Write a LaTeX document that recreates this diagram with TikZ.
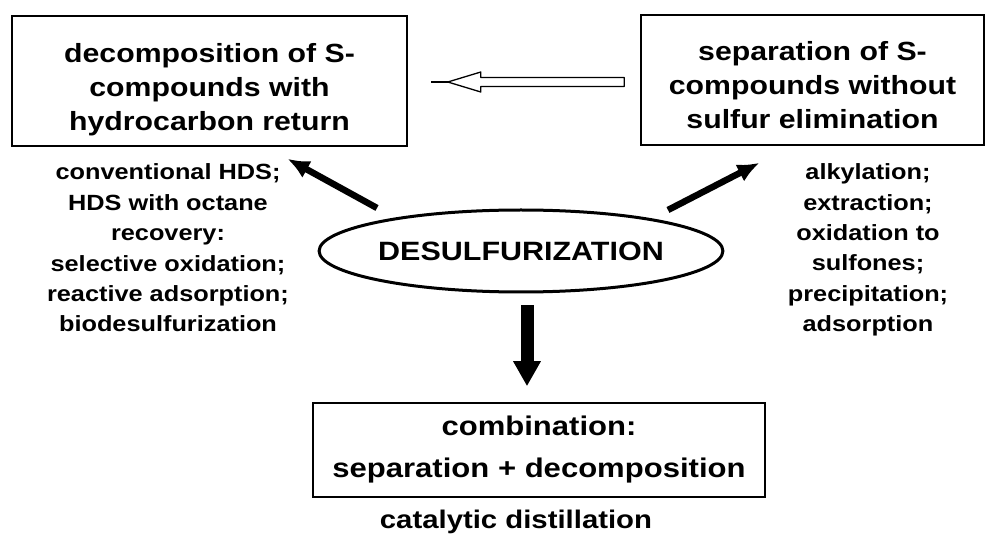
\documentclass[tikz,border=0pt]{standalone}
\usepackage{fontspec}
\setmainfont{Liberation Sans}[FakeStretch=1.15]
\usetikzlibrary{arrows.meta,shapes.geometric,calc}
\newcommand{\lowered}[2]{\raisebox{-#1}[\height][\depth]{\begin{tabular}{@{}c@{}}#2\end{tabular}}}
\tikzset{
  boxnode/.style={draw=black, line width=1.6pt, rectangle, align=center, inner sep=0pt, font=\bfseries\fontsize{26.3}{34}\selectfont},
  listnode/.style={align=center, inner sep=0pt, font=\bfseries\fontsize{22}{30.4}\selectfont},
  ellnode/.style={draw=black, line width=3pt, ellipse, inner sep=0pt, minimum width=383pt, minimum height=82pt, font=\bfseries\fontsize{26.5}{30}\selectfont},
  bigarrow/.style={line width=6.5pt, -{Latex[length=22pt,width=19pt]}},
  downarrow/.style={line width=13pt, -{Triangle[length=25pt,width=26pt]}},
  hollowarrow/.style={line width=1.3pt, line join=round},
}
\begin{document}
\begin{tikzpicture}[x=1pt,y=-1pt]
\useasboundingbox (0,0) rectangle (986,537);
\fill[white] (0,0) rectangle (986,537);
% boxes
\node[boxnode, minimum width=395pt, minimum height=130pt] (L) at (209.5,81)
  {\lowered{9pt}{decomposition of S-\\compounds with\\hydrocarbon return}};
\node[boxnode, minimum width=343pt, minimum height=130pt] (R) at (812.5,80)
  {\lowered{8pt}{separation of S-\\compounds without\\sulfur elimination}};
\node[boxnode, minimum width=452pt, minimum height=94pt, font=\bfseries\fontsize{27}{42}\selectfont] (B) at (539,450)
  {combination:\\separation + decomposition};
% centre
\node[ellnode] (E) at (521,251) {DESULFURIZATION};
% lists
\node[listnode] (LL) at (168,248)
  {conventional HDS;\\HDS with octane\\recovery:\\selective oxidation;\\reactive adsorption;\\biodesulfurization};
\node[listnode] (RL) at (868,250)
  {alkylation;\\extraction;\\oxidation to\\sulfones;\\precipitation;\\adsorption};
\node[listnode, font=\bfseries\fontsize{25.5}{28}\selectfont] (CD) at (516,522) {catalytic distillation};
% arrows
\draw[bigarrow] ([shift={(-144,-43)}]E.center) -- ([shift={(78,12)}]L.south);
\draw[bigarrow] ([shift={(147,-41)}]E.center) -- ([shift={(-53,17)}]R.south);
\draw[downarrow] ([shift={(6,12)}]E.south) -- ([shift={(-12,-16)}]B.north);
% hollow double arrow
\coordinate (dt) at ($(R.west)+(-16,2)$);
\coordinate (dh) at ($(L.east)+(23,1)$);
\draw[hollowarrow] ($(dt)+(0,-4.5)$) -- ($(dh)+(50,-4.5)$) -- ($(dh)+(50,-10)$)
  -- ($(dh)+(17,0)$) -- ($(dh)+(50,10)$) -- ($(dh)+(50,4.5)$) -- ($(dt)+(0,4.5)$) -- cycle;
\draw[hollowarrow] ($(dh)+(17,0)$) -- (dh);
\end{tikzpicture}
\end{document}
